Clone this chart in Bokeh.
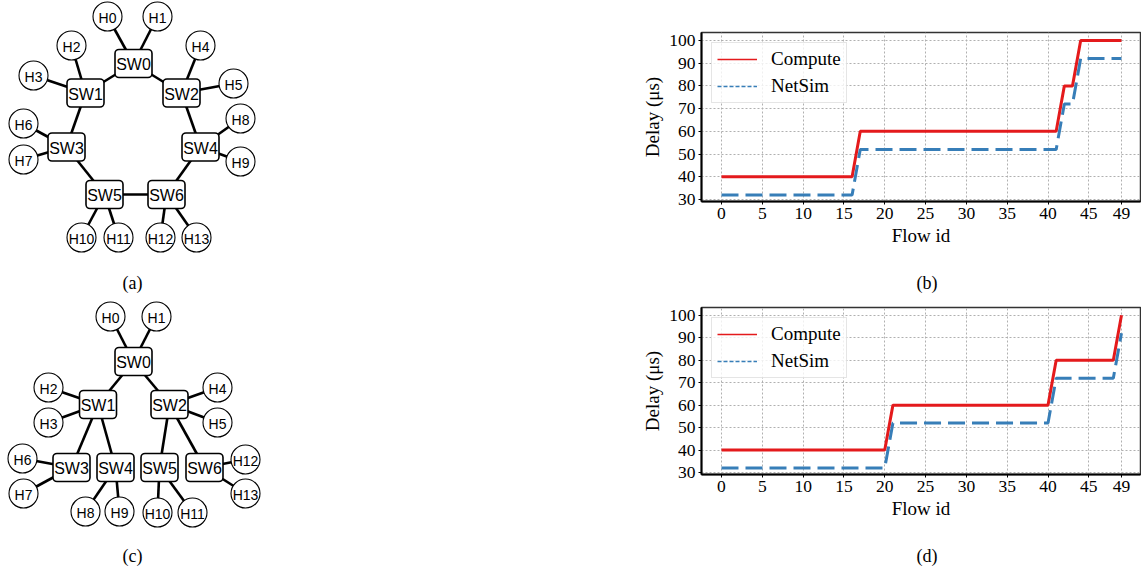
from bokeh.plotting import figure
from bokeh.layouts import row, column
from bokeh.models import Range1d, Legend, LegendItem
from bokeh.core.properties import value
from bokeh.embed import file_html
from bokeh.resources import INLINE

# ---------------- data: delay plots ----------------
flow_id = list(range(50))
x_ticks = [0, 5, 10, 15, 20, 25, 30, 35, 40, 45, 49]
y_ticks = [30, 40, 50, 60, 70, 80, 90, 100]

compute_b = [40, 40, 40, 40, 40, 40, 40, 40, 40, 40,
             40, 40, 40, 40, 40, 40, 40, 60, 60, 60,
             60, 60, 60, 60, 60, 60, 60, 60, 60, 60,
             60, 60, 60, 60, 60, 60, 60, 60, 60, 60,
             60, 60, 80, 80, 100, 100, 100, 100, 100, 100]
netsim_b = [32, 32, 32, 32, 32, 32, 32, 32, 32, 32,
            32, 32, 32, 32, 32, 32, 32, 52, 52, 52,
            52, 52, 52, 52, 52, 52, 52, 52, 52, 52,
            52, 52, 52, 52, 52, 52, 52, 52, 52, 52,
            52, 52, 72, 72, 92, 92, 92, 92, 92, 92]
compute_d = [40, 40, 40, 40, 40, 40, 40, 40, 40, 40,
             40, 40, 40, 40, 40, 40, 40, 40, 40, 40,
             40, 60, 60, 60, 60, 60, 60, 60, 60, 60,
             60, 60, 60, 60, 60, 60, 60, 60, 60, 60,
             60, 80, 80, 80, 80, 80, 80, 80, 80, 100]
netsim_d = [32, 32, 32, 32, 32, 32, 32, 32, 32, 32,
            32, 32, 32, 32, 32, 32, 32, 32, 32, 32,
            32, 52, 52, 52, 52, 52, 52, 52, 52, 52,
            52, 52, 52, 52, 52, 52, 52, 52, 52, 52,
            52, 72, 72, 72, 72, 72, 72, 72, 72, 92]

series_labels = ["Compute", "NetSim"]
x_label = "Flow id"
y_label = "Delay (μs)"

# ---------------- data: topologies (node layout, page pixels) ----------------
ring_names = ["SW0", "SW1", "SW2", "SW3", "SW4", "SW5", "SW6",
              "H0", "H1", "H2", "H3", "H4", "H5", "H6", "H7",
              "H8", "H9", "H10", "H11", "H12", "H13"]
ring_x = [133, 85, 181, 66, 200, 104, 166,
          107, 157, 71, 33, 200, 233, 23, 23,
          240, 240, 81, 118, 160, 196]
ring_y = [63, 92.5, 92.5, 146.5, 146.5, 194, 194,
          16, 16, 45, 75, 45, 83, 123, 159,
          118, 161, 237, 237, 237, 237]
ring_edges = [("SW0", "SW1"), ("SW0", "SW2"), ("SW1", "SW3"), ("SW2", "SW4"),
              ("SW3", "SW5"), ("SW4", "SW6"), ("SW5", "SW6"),
              ("H0", "SW0"), ("H1", "SW0"), ("H2", "SW1"), ("H3", "SW1"),
              ("H4", "SW2"), ("H5", "SW2"), ("H6", "SW3"), ("H7", "SW3"),
              ("H8", "SW4"), ("H9", "SW4"), ("H10", "SW5"), ("H11", "SW5"),
              ("H12", "SW6"), ("H13", "SW6")]

tree_names = ["SW0", "SW1", "SW2", "SW3", "SW4", "SW5", "SW6",
              "H0", "H1", "H2", "H3", "H4", "H5", "H6", "H7",
              "H8", "H9", "H10", "H11", "H12", "H13"]
tree_x = [133, 97.5, 169, 71, 115, 159, 204,
          110, 156, 48, 48, 217, 217, 22, 23,
          85, 119, 157, 192, 245, 245]
tree_y = [361, 404, 404, 467, 467, 467, 467,
          316, 316, 387, 422, 387, 422, 458, 493,
          511, 511, 512, 512, 459, 493]
tree_edges = [("SW0", "SW1"), ("SW0", "SW2"), ("SW1", "SW3"), ("SW1", "SW4"),
              ("SW2", "SW5"), ("SW2", "SW6"),
              ("H0", "SW0"), ("H1", "SW0"), ("H2", "SW1"), ("H3", "SW1"),
              ("H4", "SW2"), ("H5", "SW2"), ("H6", "SW3"), ("H7", "SW3"),
              ("H8", "SW4"), ("H9", "SW4"), ("H10", "SW5"), ("H11", "SW5"),
              ("H12", "SW6"), ("H13", "SW6")]

captions_left = ["(a)", "(c)"]
captions_left_x = [132, 132]
captions_left_y = [282, 555]

SERIF = value("Liberation Serif")
SANS = value("Liberation Sans")
RED = "#e41a1c"
BLUE = "#377eb8"


def draw_net(p, names, xs, ys, edges):
    pos = {n: (x, y) for n, x, y in zip(names, xs, ys)}
    x0 = [pos[a][0] for a, b in edges]
    y0 = [pos[a][1] for a, b in edges]
    x1 = [pos[b][0] for a, b in edges]
    y1 = [pos[b][1] for a, b in edges]
    p.segment(x0, y0, x1, y1, line_color="black", line_width=2.6)
    hosts = [n for n in names if n.startswith("H")]
    sws = [n for n in names if n.startswith("SW")]
    p.scatter([pos[n][0] for n in hosts], [pos[n][1] for n in hosts], size=29,
              marker="circle", fill_color="white", line_color="black", line_width=1.1)
    p.rect([pos[n][0] for n in sws], [pos[n][1] for n in sws], width=37, height=28,
           fill_color="white", line_color="black", line_width=1.6, border_radius=4)
    p.text([pos[n][0] for n in hosts], [pos[n][1] + 1 for n in hosts], text=hosts,
           text_align="center", text_baseline="middle", text_font=SANS,
           text_font_size="14px", text_color="black")
    p.text([pos[n][0] for n in sws], [pos[n][1] + 1 for n in sws], text=sws,
           text_align="center", text_baseline="middle", text_font=SANS,
           text_font_size="16px", text_color="black")


def blank(p):
    p.min_border_left = 0
    p.min_border_right = 0
    p.min_border_top = 0
    p.min_border_bottom = 0
    p.outline_line_color = None


# ---------------- left figure: both topologies ----------------
left = figure(width=629, height=573, x_range=Range1d(0, 629), y_range=Range1d(573, 0),
              x_axis_type=None, y_axis_type=None, output_backend="svg",
              toolbar_location=None, min_border=0)
blank(left)
draw_net(left, ring_names, ring_x, ring_y, ring_edges)
draw_net(left, tree_names, tree_x, tree_y, tree_edges)
left.text(captions_left_x, captions_left_y, text=captions_left, text_align="center",
          text_baseline="middle", text_font=SERIF, text_font_size="18px",
          text_color="black")


def make_plot(compute, netsim, height, btop, bbottom):
    p = figure(width=512, height=height, x_range=Range1d(-2.45, 51.33),
               y_range=Range1d(29.1, 103.5), output_backend="svg",
               toolbar_location=None, min_border_left=72, min_border_right=1,
               min_border_top=btop, min_border_bottom=bbottom)
    p.outline_line_color = "#333333"
    p.outline_line_width = 1.5
    p.grid.grid_line_color = "#b0b0b0"
    p.grid.grid_line_dash = "2 2"
    p.grid.grid_line_width = 1
    p.xaxis.ticker = x_ticks
    p.yaxis.ticker = y_ticks
    for ax in (p.xaxis, p.yaxis):
        ax.major_tick_out = 3
        ax.major_tick_in = 0
        ax.minor_tick_out = 0
        ax.minor_tick_in = 0
        ax.axis_line_width = 2
        ax.axis_line_color = "black"
        ax.major_tick_line_color = "black"
        ax.major_label_text_font = "Liberation Serif"
        ax.major_label_text_font_size = "17.5px"
        ax.major_label_text_color = "black"
        ax.major_label_standoff = 3
        ax.axis_label_text_font = "Liberation Serif"
        ax.axis_label_text_font_size = "19px"
        ax.axis_label_text_font_style = "normal"
        ax.axis_label_text_color = "black"
        ax.axis_label_standoff = 3
    p.xaxis.axis_label = x_label
    p.yaxis.axis_label = y_label

    p.line(flow_id, compute, line_color=RED, line_width=3)
    p.line(flow_id, netsim, line_color=BLUE, line_width=3, line_dash="17 7")
    # thin legend-only renderers, placed outside the visible range
    d1 = p.line([-100, -99], [0, 0], line_color=RED, line_width=1.5)
    d2 = p.line([-100, -99], [0, 0], line_color=BLUE, line_width=1.5, line_dash="4 2")
    leg = Legend(items=[LegendItem(label=series_labels[0], renderers=[d1]),
                        LegendItem(label=series_labels[1], renderers=[d2])],
                 location="top_left", margin=10, padding=5, spacing=5,
                 glyph_width=40, glyph_height=22, label_height=22, label_standoff=14,
                 label_text_font="Liberation Serif", label_text_font_size="19px",
                 label_text_color="black",
                 border_line_color="#cccccc", border_line_width=1,
                 background_fill_color="white", background_fill_alpha=0.8)
    p.add_layout(leg)
    return p


def make_caption(text, y_top, y_bottom, y_text):
    c = figure(width=512, height=y_bottom - y_top, x_range=Range1d(629, 1141),
               y_range=Range1d(y_bottom, y_top), x_axis_type=None, y_axis_type=None,
               output_backend="svg", toolbar_location=None, min_border=0)
    blank(c)
    c.text([892], [y_text], text=[text], text_align="center", text_baseline="middle",
           text_font=SERIF, text_font_size="18px", text_color="black")
    return c


fig_b = make_plot(compute_b, netsim_b, 262, 32, 61)
cap_b = make_caption("(b)", 262, 300, 282)
fig_d = make_plot(compute_d, netsim_d, 235, 7, 61)
cap_d = make_caption("(d)", 535, 573, 555)

layout = row(left, column(fig_b, cap_b, fig_d, cap_d))

open("out.html", "w").write(file_html(layout, INLINE))
